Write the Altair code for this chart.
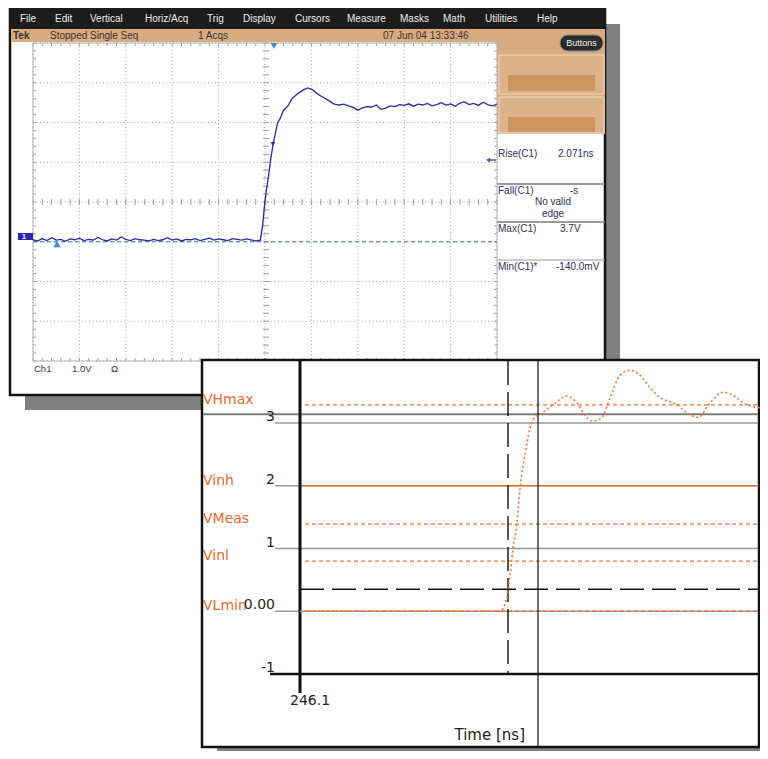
import altair as alt
import pandas as pd

# ---------------- data ----------------
menu_items = ["File", "Edit", "Vertical", "Horiz/Acq", "Trig", "Display", "Cursors",
              "Measure", "Masks", "Math", "Utilities", "Help"]
status_texts = ["Tek", "Stopped  Single Seq", "1 Acqs", "07 Jun 04 13:33:46"]
meas_names = ["Rise(C1)", "Fall(C1)", "Max(C1)", "Min(C1)*"]
meas_values = ["2.071ns", "-s", "3.7V", "-140.0mV"]
fall_note = ["No valid", "edge"]
channel_texts = ["Ch1", "1.0V", "\u03a9"]
button_text = "Buttons"

# scope trace: time in divisions, volts (1 V/div)
scope_t = [0.0, 0.1, 0.2, 0.3, 0.4, 0.5, 0.6, 0.7, 0.8, 0.9,
           1.0, 1.1, 1.2, 1.3, 1.4, 1.5, 1.6, 1.7, 1.8, 1.9,
           2.0, 2.1, 2.2, 2.3, 2.4, 2.5, 2.6, 2.7, 2.8, 2.9,
           3.0, 3.1, 3.2, 3.3, 3.4, 3.5, 3.6, 3.7, 3.8, 3.9,
           4.0, 4.1, 4.2, 4.3, 4.4, 4.5, 4.6, 4.7, 4.8,
           4.90, 4.95, 4.99, 5.03, 5.08, 5.12, 5.18, 5.27, 5.33, 5.40,
           5.49, 5.59, 5.72, 5.83, 5.92, 6.03, 6.13, 6.24, 6.35, 6.48, 6.59,
           6.7, 6.8, 6.9, 7.0, 7.1, 7.2, 7.3, 7.4, 7.5, 7.6,
           7.7, 7.8, 7.9, 8.0, 8.1, 8.2, 8.3, 8.4, 8.5, 8.6,
           8.7, 8.8, 8.9, 9.0, 9.1, 9.2, 9.3, 9.4, 9.5, 9.6,
           9.7, 9.8, 9.9, 10.0]
scope_v = [0.05, 0.02, 0.08, 0.03, 0.10, 0.04, 0.06, 0.01, 0.07, 0.05,
           0.09, 0.03, 0.06, 0.04, 0.11, 0.05, 0.02, 0.07, 0.04, 0.12,
           0.06, 0.03, 0.08, 0.05, 0.04, 0.02, 0.06, 0.03, 0.05, 0.10,
           0.04, 0.07, 0.02, 0.06, 0.05, 0.08, 0.03, 0.06, 0.09, 0.04,
           0.07, 0.05, 0.03, 0.08, 0.06, 0.04, 0.07, 0.05, 0.02,
           0.04, 0.42, 0.92, 1.30, 1.68, 2.06, 2.48, 2.99, 3.11, 3.31,
           3.41, 3.61, 3.74, 3.82, 3.87, 3.82, 3.72, 3.64, 3.57, 3.47, 3.44,
           3.46, 3.42, 3.38, 3.31, 3.37, 3.40, 3.39, 3.44, 3.33, 3.36,
           3.42, 3.40, 3.45, 3.43, 3.47, 3.41, 3.46, 3.44, 3.48, 3.42,
           3.45, 3.50, 3.44, 3.47, 3.41, 3.49, 3.52, 3.45, 3.48, 3.43,
           3.51, 3.45, 3.42, 3.46]
scope_grid_t = [0, 1, 2, 3, 4, 5, 6, 7, 8, 9, 10]
scope_grid_v = [-3, -2, -1, 0, 1, 2, 3, 4, 5]

# simulation trace: time [ns], volts
sim_t = [246.1, 250.1, 250.24, 250.3, 250.36, 250.44, 250.5, 250.6, 250.7, 250.8,
         250.9, 251.16, 251.44, 251.64, 251.84, 251.96, 252.14, 252.3, 252.5, 252.7,
         252.9, 253.1, 253.3, 253.64, 253.9, 254.06, 254.3, 254.56, 254.76, 255.04, 255.36]
sim_v = [0.0, 0.0, 0.22, 0.57, 1.0, 1.42, 1.96, 2.49, 2.92, 3.1,
         3.14, 3.29, 3.43, 3.32, 3.08, 3.03, 3.09, 3.40, 3.76, 3.84,
         3.76, 3.56, 3.41, 3.29, 3.13, 3.09, 3.32, 3.49, 3.44, 3.29, 3.24]

level_names = ["VHmax", "Vinh", "VMeas", "Vinl", "VLmin"]
level_values = [3.29, 2.0, 1.39, 0.8, 0.0]
level_dashed = [True, False, True, True, True]

sim_grid_v = [0, 1, 2, 3]
sim_tick_v = [3, 2, 1, 0, -1]
sim_tick_text = ["3", "2", "1", "0.00", "-1"]
sim_time_start = 246.1
sim_time_label = "246.1"
sim_axis_title = "Time [ns]"
sim_ref_v = [3.14]
sim_thresh_v = [0.35]
sim_cursor_dash_t = [250.26]
sim_cursor_solid_t = [250.86]

# ---------------- layout / style ----------------
OX, OY = 8, 8
RIGHT = 759   # right edge of the simulation window (canvas ends at 760)


def px(x):
    return x - OX


def py(y):
    return y - OY


ONE = alt.Data(values=[{"k": 0}])
NAVY = "#2a2a9c"
ORANGE = "#e4763c"
ORANGE_TXT = "#e26a2e"
TAN = "#d8ab80"
FONT = "Liberation Sans"
SIMFONT = "DejaVu Sans"

SX = alt.Scale(domain=[0, 10], range=[px(33), px(497)], nice=False, zero=False)
SY = alt.Scale(domain=[-3, 5], range=[py(361), py(43)], nice=False, zero=False)
TX = alt.Scale(domain=[246.1, 255.4], range=[px(300), px(765)], nice=False, zero=False)
VY = alt.Scale(domain=[-1, 3], range=[py(674), py(423)], nice=False, zero=False)

layers = []


def box(x0, y0, x1, y1, fill, stroke=None, sw=0, r=0):
    kw = dict(fill=fill, cornerRadius=r)
    if stroke:
        kw.update(stroke=stroke, strokeWidth=sw)
    else:
        kw.update(strokeWidth=0)
    layers.append(alt.Chart(ONE).mark_rect(**kw).encode(
        x=alt.value(px(x0)), x2=alt.value(px(x1)),
        y=alt.value(py(y0)), y2=alt.value(py(y1))))


def label(x, y, s, color="#222222", size=10, align="left", weight="normal",
          baseline="middle", font=FONT):
    layers.append(alt.Chart(ONE).mark_text(
        text=s, color=color, fontSize=size, align=align, baseline=baseline,
        fontWeight=weight, font=font).encode(x=alt.value(px(x)), y=alt.value(py(y))))


def hline(x0, x1, y, color, w=1.0, dash=None):
    kw = dict(color=color, strokeWidth=w)
    if dash:
        kw["strokeDash"] = dash
    layers.append(alt.Chart(ONE).mark_rule(**kw).encode(
        x=alt.value(px(x0)), x2=alt.value(px(x1)), y=alt.value(py(y))))


def marker(x, y, shape, color, size):
    layers.append(alt.Chart(ONE).mark_point(
        shape=shape, filled=True, color=color, size=size, opacity=1).encode(
        x=alt.value(px(x)), y=alt.value(py(y))))


# ---------------- oscilloscope window ----------------
box(605, 24, 620, 410, "#808080")           # right shadow
box(25, 395, 620, 410, "#808080")           # bottom shadow
box(10, 8, 605, 395, "#ffffff", stroke="#111111", sw=2.5)
box(10, 8, 605, 29, "#1c1c1c")              # menu bar
menu_x = [20, 55, 90, 145, 207, 243, 295, 347, 400, 443, 485, 537]
for s, x in zip(menu_items, menu_x):
    label(x, 19, s, color="#eeeeee", size=10)
box(11, 29, 605, 42, TAN)                   # status bar
status_x = [13, 50, 198, 383]
for i, (s, x) in enumerate(zip(status_texts, status_x)):
    label(x, 36, s, color="#3a3030", size=10, weight="bold" if i == 0 else "normal")

# right-hand panel
box(497, 42, 605, 134, TAN)
box(560, 35, 603, 51, "#2b2b2b", stroke="#8a8a8a", sw=1, r=8)
label(581.5, 43, button_text, color="#f2f2f2", size=9, align="center")
box(499, 55, 604, 94, "#dcb38b", stroke="#efd9c3", sw=1)
box(508, 75, 595, 91, "#cc9562")
box(499, 97, 604, 133, "#dcb38b", stroke="#efd9c3", sw=1)
box(508, 117, 595, 132, "#cc9562")
hline(497, 605, 184, "#7a7a7a", 1.5)
hline(497, 605, 222, "#7a7a7a", 1.5)
hline(497, 605, 260, "#9a9a9a", 1)
PANEL_TXT = "#30305a"
meas_y = [154, 191, 229, 267]
meas_vx = [558, 570, 560, 556]
for s, v, y, vx in zip(meas_names, meas_values, meas_y, meas_vx):
    label(498, y, s, color=PANEL_TXT, size=10)
    label(vx, y, v, color=PANEL_TXT, size=10)
label(553, 202, fall_note[0], color=PANEL_TXT, size=10, align="center")
label(553, 214, fall_note[1], color=PANEL_TXT, size=10, align="center")

# graticule
grid_t_df = pd.DataFrame({"t": scope_grid_t})
grid_v_df = pd.DataFrame({"v": scope_grid_v})
layers.append(alt.Chart(grid_t_df).mark_rule(color="#a0a0a0", strokeDash=[1, 2.5], strokeWidth=1).encode(
    x=alt.X("t:Q", scale=SX, axis=None), y=alt.value(py(43)), y2=alt.value(py(361))))
layers.append(alt.Chart(grid_v_df).mark_rule(color="#a0a0a0", strokeDash=[1, 2.5], strokeWidth=1).encode(
    y=alt.Y("v:Q", scale=SY, axis=None), x=alt.value(px(33)), x2=alt.value(px(497))))
minor_t = pd.DataFrame({"t": [i / 5 for i in range(51)]})
minor_v = pd.DataFrame({"v": [i / 5 - 3 for i in range(41)]})
for (y0, y1) in [(199, 205), (43, 46), (358, 361)]:
    layers.append(alt.Chart(minor_t).mark_rule(color="#9a9a9a", strokeWidth=1).encode(
        x=alt.X("t:Q", scale=SX, axis=None), y=alt.value(py(y0)), y2=alt.value(py(y1))))
for (x0, x1) in [(263, 269), (33, 36), (494, 497)]:
    layers.append(alt.Chart(minor_v).mark_rule(color="#9a9a9a", strokeWidth=1).encode(
        y=alt.Y("v:Q", scale=SY, axis=None), x=alt.value(px(x0)), x2=alt.value(px(x1))))
box(33, 43, 497, 361, "transparent", stroke="#b8b8b8", sw=1)

# ground reference
layers.append(alt.Chart(pd.DataFrame({"v": [0]})).mark_rule(
    color="#3a76a8", strokeDash=[4, 3], strokeWidth=1).encode(
    y=alt.Y("v:Q", scale=SY, axis=None), x=alt.value(px(33)), x2=alt.value(px(497))))

# waveform
scope_df = pd.DataFrame({"t": scope_t, "v": scope_v})
layers.append(alt.Chart(scope_df).mark_line(color=NAVY, strokeWidth=1.3).encode(
    x=alt.X("t:Q", scale=SX, axis=None), y=alt.Y("v:Q", scale=SY, axis=None)))

# markers
marker(274, 46, "triangle-down", "#3a8ed6", 45)
marker(57, 244, "triangle-up", "#3a8ed6", 55)
marker(273, 144, "triangle-down", NAVY, 22)
box(18, 233, 33, 240, "#2a2aa8")
label(22, 236.5, "1", color="#ffffff", size=7, weight="bold")
hline(488, 496, 160, "#4060a8", 1.5)
marker(488, 160, "triangle-left", "#4060a8", 25)

ch_x = [34, 72, 111]
for s, x in zip(channel_texts, ch_x):
    label(x, 369, s, color=PANEL_TXT, size=9.5)

# ---------------- simulation window ----------------
box(217, 748, 768, 759, "#808080")
box(202, 360, RIGHT, 747, "#ffffff", stroke="#111111", sw=2.5)
IN = RIGHT - 1

# gray reference line and grid
layers.append(alt.Chart(pd.DataFrame({"v": sim_ref_v})).mark_rule(color="#7c7c7c", strokeWidth=2).encode(
    y=alt.Y("v:Q", scale=VY, axis=None), x=alt.value(px(203)), x2=alt.value(px(IN))))
layers.append(alt.Chart(pd.DataFrame({"v": sim_grid_v})).mark_rule(color="#9a9a9a", strokeWidth=1.3).encode(
    y=alt.Y("v:Q", scale=VY, axis=None), x=alt.value(px(275)), x2=alt.value(px(IN))))

lev_df = pd.DataFrame({"name": level_names, "v": level_values, "dashed": level_dashed})
layers.append(alt.Chart(lev_df[lev_df.dashed]).mark_rule(
    color=ORANGE, strokeWidth=1.3, strokeDash=[4, 3]).encode(
    y=alt.Y("v:Q", scale=VY, axis=None), x=alt.value(px(305)), x2=alt.value(px(IN))))
layers.append(alt.Chart(lev_df[~lev_df.dashed]).mark_rule(
    color=ORANGE, strokeWidth=1.3).encode(
    y=alt.Y("v:Q", scale=VY, axis=None), x=alt.value(px(300)), x2=alt.value(px(IN))))

# black dashed threshold and cursors
layers.append(alt.Chart(pd.DataFrame({"v": sim_thresh_v})).mark_rule(
    color="#111111", strokeWidth=1.4, strokeDash=[24, 8]).encode(
    y=alt.Y("v:Q", scale=VY, axis=None), x=alt.value(px(300)), x2=alt.value(px(IN))))
layers.append(alt.Chart(pd.DataFrame({"t": sim_cursor_dash_t})).mark_rule(
    color="#111111", strokeWidth=1.4, strokeDash=[24, 7]).encode(
    x=alt.X("t:Q", scale=TX, axis=None), y=alt.value(py(361)), y2=alt.value(py(674))))
layers.append(alt.Chart(pd.DataFrame({"t": sim_cursor_solid_t})).mark_rule(
    color="#111111", strokeWidth=1.2).encode(
    x=alt.X("t:Q", scale=TX, axis=None), y=alt.value(py(361)), y2=alt.value(py(746))))

# axes
layers.append(alt.Chart(pd.DataFrame({"t": [sim_time_start]})).mark_rule(
    color="#111111", strokeWidth=3).encode(
    x=alt.X("t:Q", scale=TX, axis=None), y=alt.value(py(361)), y2=alt.value(py(693))))
layers.append(alt.Chart(pd.DataFrame({"v": [-1]})).mark_rule(
    color="#111111", strokeWidth=2.5).encode(
    y=alt.Y("v:Q", scale=VY, axis=None), x=alt.value(px(270)), x2=alt.value(px(IN))))

# simulated waveform
sim_df = pd.DataFrame({"t": sim_t, "v": sim_v})
layers.append(alt.Chart(sim_df).mark_line(
    color=ORANGE, strokeWidth=1.6, strokeDash=[2, 2.5], interpolate="monotone").encode(
    x=alt.X("t:Q", scale=TX, axis=None), y=alt.Y("v:Q", scale=VY, axis=None)))

# labels
layers.append(alt.Chart(lev_df).mark_text(
    color=ORANGE_TXT, fontSize=14, align="left", baseline="middle", dy=-5, font=SIMFONT).encode(
    y=alt.Y("v:Q", scale=VY, axis=None), x=alt.value(px(203)), text="name:N"))
tick_df = pd.DataFrame({"v": sim_tick_v, "txt": sim_tick_text})
layers.append(alt.Chart(tick_df).mark_text(
    color="#222222", fontSize=14, align="right", baseline="middle", dy=-6, font=SIMFONT).encode(
    y=alt.Y("v:Q", scale=VY, axis=None), x=alt.value(px(275)), text="txt:N"))
layers.append(alt.Chart(pd.DataFrame({"t": [sim_time_start], "txt": [sim_time_label]})).mark_text(
    color="#222222", fontSize=14, align="left", baseline="middle", dx=-10, font=SIMFONT).encode(
    x=alt.X("t:Q", scale=TX, axis=None), y=alt.value(py(701)), text="txt:N"))
label(525, 735, sim_axis_title, color="#222222", size=15, align="right", font=SIMFONT)

chart = alt.layer(*layers).resolve_scale(x="independent", y="independent").properties(
    width=752, height=743, padding=0, autosize=alt.AutoSizeParams(type="none"),
    background="#ffffff").configure_view(strokeWidth=0)

chart.save("out.html", embed_options={"renderer": "svg", "actions": False})
